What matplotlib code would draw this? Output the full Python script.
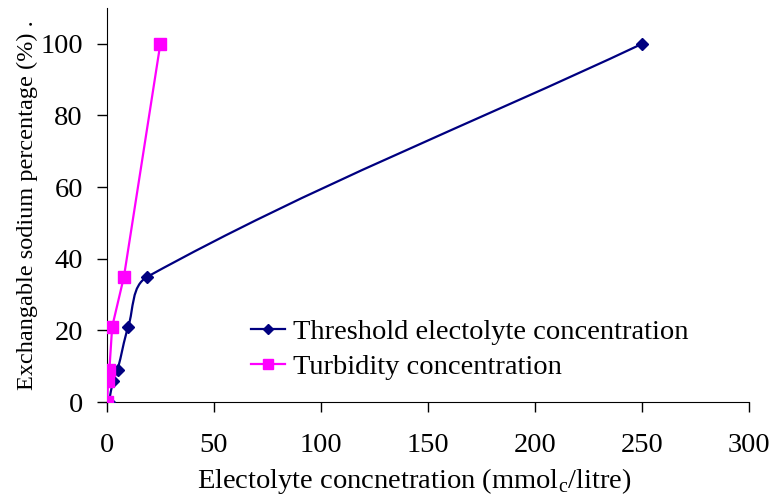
import numpy as np
import matplotlib
matplotlib.use("Agg")
import matplotlib.pyplot as plt
from matplotlib.path import Path
from matplotlib.patches import PathPatch
from matplotlib.lines import Line2D

plt.rcParams['font.family'] = ['Liberation Serif', 'DejaVu Serif']
plt.rcParams['mathtext.fontset'] = 'custom'
plt.rcParams['mathtext.rm'] = 'Liberation Serif'

# data
thr_x = [1, 3, 5, 10, 19, 250]
thr_y = [0, 6, 9, 21, 35, 100]
turb_x = [0.2, 0.6, 1.2, 2.5, 8, 25]
turb_y = [0, 6, 9, 21, 35, 100]

x_ticks = [0, 50, 100, 150, 200, 250, 300]
y_ticks = [0, 20, 40, 60, 80, 100]

blue = '#000080'
pink = '#FF00FF'


def smooth_path(xs, ys, sx, sy, k=0.35):
    # smoothed line like the spreadsheet one, worked out in pixel space
    p = np.column_stack([np.array(xs) * sx, np.array(ys) * sy])
    n = len(p)
    tang = []
    for i in range(n):
        a = p[max(i - 1, 0)]
        b = p[min(i + 1, n - 1)]
        d = b - a
        tang.append(d / np.hypot(*d))
    verts = [p[0]]
    codes = [Path.MOVETO]
    for i in range(n - 1):
        seg = np.hypot(*(p[i + 1] - p[i]))
        c1 = p[i] + tang[i] * seg * k
        c2 = p[i + 1] - tang[i + 1] * seg * k
        verts += [c1, c2, p[i + 1]]
        codes += [Path.CURVE4] * 3
    verts = np.array(verts) / [sx, sy]
    return Path(verts, codes)


fig = plt.figure(figsize=(7.74, 4.97), dpi=100)
ax = fig.add_axes([0.138, 0.191, 0.830, 0.793])
ax.set_xlim(0, 300)
ax.set_ylim(0, 110)

sx = fig.get_figwidth() * 100 * 0.830 / 300
sy = fig.get_figheight() * 100 * 0.793 / 110
ax.add_patch(PathPatch(smooth_path(thr_x, thr_y, sx, sy), fill=False,
                       edgecolor=blue, lw=1.6, zorder=2))
ax.plot(thr_x, thr_y, linestyle='none', marker='D', color=blue, markersize=6.3, zorder=3)
ax.plot(turb_x, turb_y, color=pink, lw=1.6, marker='s', markersize=8, zorder=4)

ax.set_xticks(x_ticks)
ax.set_yticks(y_ticks)
ax.spines['top'].set_visible(False)
ax.spines['right'].set_visible(False)
ax.tick_params(axis='both', direction='out', length=7.2, width=1, labelsize=20.5)
ax.tick_params(axis='x', pad=15)
ax.tick_params(axis='y', pad=10)
ax.set_xlabel(r'Electolyte concnetration (mmol$_{\mathrm{c}}$/litre)', fontsize=20.5)
ax.xaxis.set_label_coords(0.478, -0.162)
ax.set_ylabel('Exchangable sodium percentage (%) .', fontsize=17.5, labelpad=2)

handles = [Line2D([], [], color=blue, lw=1.6, marker='D', markersize=5),
           Line2D([], [], color=pink, lw=1.6, marker='s', markersize=7)]
ax.legend(handles, ['Threshold electolyte concentration', 'Turbidity concentration'],
          loc='lower left', bbox_to_anchor=(0.184, -0.008), frameon=False, fontsize=20.5,
          handlelength=1.2, handletextpad=0.3, labelspacing=0.3)

fig.savefig('out.png', dpi=100)
